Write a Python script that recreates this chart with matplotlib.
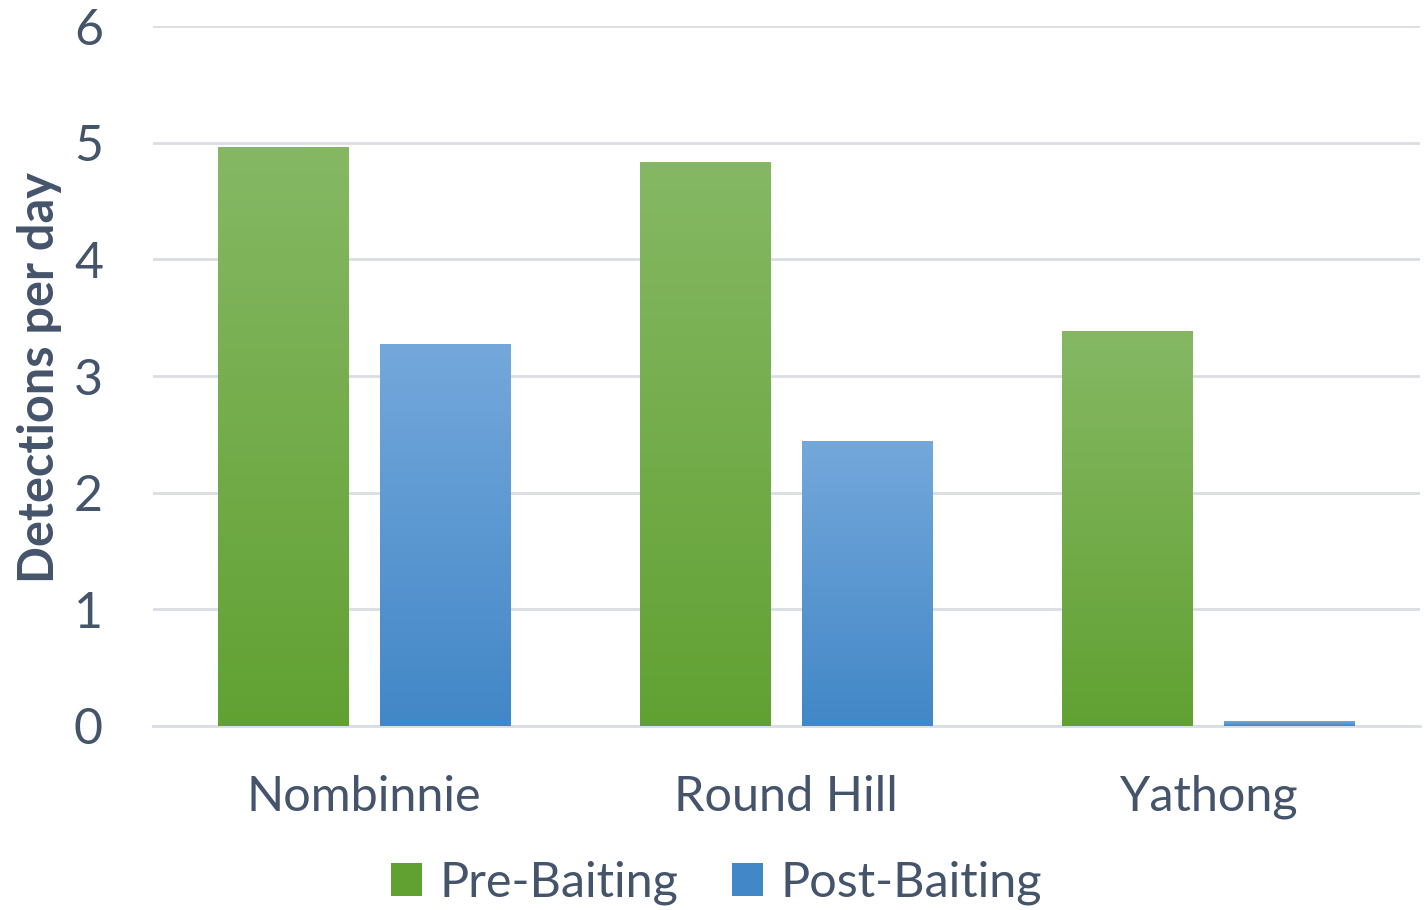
import matplotlib
matplotlib.use('Agg')
from matplotlib import pyplot as plt
from matplotlib.patches import Patch
from matplotlib.colors import LinearSegmentedColormap
import numpy as np

# 数据
categories = ['Nombinnie', 'Round Hill', 'Yathong']
pre_baiting = [4.96, 4.83, 3.38]
post_baiting = [3.27, 2.44, 0.04]
series_names = ['Pre-Baiting', 'Post-Baiting']

text_color = '#44546A'
grid_color = '#D9DEE4'
green_top, green_bottom = '#86B864', '#61A132'
blue_top, blue_bottom = '#74A8DB', '#4287C7'

plt.rcParams['font.family'] = ['Lato', 'DejaVu Sans']

fig = plt.figure(figsize=(14.24, 9.1), dpi=100)
ax = fig.add_axes([0.1074, 0.2022, 0.8896, 0.7692])

width = 0.31
offset = 0.192
x = np.arange(len(categories))


# 渐变柱子：上浅下深
def gradient_bar(ax, xc, h, c_top, c_bottom):
    cmap = LinearSegmentedColormap.from_list('g', [c_bottom, c_top])
    grad = np.linspace(0, 1, 256).reshape(-1, 1)
    ax.imshow(grad, cmap=cmap, origin='lower', aspect='auto',
              extent=(xc - width / 2, xc + width / 2, 0, h), zorder=3)


for i in range(len(categories)):
    gradient_bar(ax, x[i] - offset, pre_baiting[i], green_top, green_bottom)
    gradient_bar(ax, x[i] + offset, post_baiting[i], blue_top, blue_bottom)

ax.set_xlim(-0.5, len(categories) - 0.5)
ax.set_ylim(0, 6)
ax.set_yticks(range(0, 7))
ax.yaxis.grid(True, color=grid_color, linewidth=2)
ax.set_axisbelow(True)
for s in ['top', 'right', 'left']:
    ax.spines[s].set_visible(False)
ax.spines['bottom'].set_color(grid_color)
ax.spines['bottom'].set_linewidth(2)
ax.tick_params(axis='both', length=0, colors=text_color)
ax.tick_params(axis='y', pad=36, labelsize=36)
ax.tick_params(axis='x', pad=35, labelsize=35)
ax.set_xticks(x)
ax.set_xticklabels(categories)

ax.set_ylabel('Detections per day', fontsize=35, fontweight='bold', color=text_color)
ax.yaxis.set_label_coords(-0.072, 0.498)

handles = [Patch(facecolor=green_bottom, edgecolor='none'),
           Patch(facecolor=blue_bottom, edgecolor='none')]
fig.legend(handles, series_names, loc='center', bbox_to_anchor=(0.503, 0.03),
           ncol=2, frameon=False, fontsize=35, labelcolor=text_color,
           handlelength=0.65, handleheight=0.65, handletextpad=0.35, columnspacing=1.1)

plt.savefig('out.png', dpi=100)
